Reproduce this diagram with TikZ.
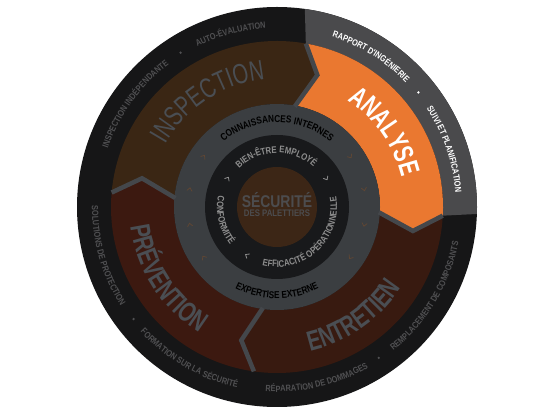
\documentclass[tikz,border=0pt]{standalone}
\usepackage{fontspec}
\usepackage{tikz}
\usetikzlibrary{decorations.text}

\newfontfamily\narrowsans[FakeStretch=0.82]{Liberation Sans}
\newfontfamily\widesans[FakeStretch=0.72]{Liberation Sans}
\newcommand{\outerfont}{\narrowsans\bfseries\fontsize{9pt}{9pt}\selectfont}
\newcommand{\phasefont}{\widesans\bfseries\fontsize{28pt}{28pt}\selectfont}
\newcommand{\phasefontlight}{\widesans\fontsize{28pt}{28pt}\selectfont}
\newcommand{\midfont}{\narrowsans\bfseries\fontsize{10pt}{10pt}\selectfont}
\newcommand{\innerfont}{\narrowsans\bfseries\fontsize{9.5pt}{9.5pt}\selectfont}

\definecolor{outerblack}{HTML}{161617}
\definecolor{analysering}{HTML}{4A4A4C}
\definecolor{inspbrown}{HTML}{3A2614}
\definecolor{analyseorange}{HTML}{EA7830}
\definecolor{entretienred}{HTML}{381A10}
\definecolor{preventionred}{HTML}{3C1910}
\definecolor{midgray}{HTML}{3B3E41}
\definecolor{divgray}{HTML}{44474B}
\definecolor{innerblack}{HTML}{18191B}
\definecolor{corebrown}{HTML}{3C2616}
\definecolor{phasegray}{HTML}{4A4E53}
\definecolor{outertxt}{HTML}{505052}
\definecolor{innertxt}{HTML}{8E8E8E}
\definecolor{coretxt}{HTML}{4C4C4E}
\definecolor{tickbrown}{HTML}{5E4634}

\begin{document}
\begin{tikzpicture}[
    x=1pt, y=1pt,
    ringtext/.style={decorate, decoration={text along path, text align=center}},
    divider/.style={draw=divgray, line width=4.5pt, line join=miter},
    tickmark/.style={draw=#1, line width=0.8pt, line cap=round, line join=round},
    sepdot/.style={fill=#1},
  ]
  \useasboundingbox (0,0) rectangle (556,417);
  \begin{scope}[shift={(277,210)}]
    % Outer ring
    \fill[outerblack] (0,0) circle[radius=200];
    \fill[analysering] (82:200) arc[start angle=82, end angle=-2, radius=200]
        -- (-3:166) arc[start angle=-3, end angle=80, radius=166] -- cycle;

    % Four phases
    \fill[inspbrown] (175:166) arc[start angle=175, end angle=80, radius=166]
        -- (73:138) -- (80:103) arc[start angle=80, end angle=175, radius=103]
        -- (168:138) -- cycle;
    \fill[analyseorange] (80:166) arc[start angle=80, end angle=-3, radius=166]
        -- (-10:138) -- (-3:103) arc[start angle=-3, end angle=80, radius=103]
        -- (73:138) -- cycle;
    \fill[entretienred] (-3:166) arc[start angle=-3, end angle=-98, radius=166]
        -- (-105:138) -- (-98:103) arc[start angle=-98, end angle=-3, radius=103]
        -- (-10:138) -- cycle;
    \fill[preventionred] (-98:166) arc[start angle=-98, end angle=-185, radius=166]
        -- (-192:138) -- (-185:103) arc[start angle=-185, end angle=-98, radius=103]
        -- (-105:138) -- cycle;

    % Middle and inner rings
    \fill[midgray] (0,0) circle[radius=103];
    \foreach \b in {80,-3,-98,175}
      \draw[divider] (\b:166) -- (\b-7:138) -- (\b:102);
    \fill[innerblack] (0,0) circle[radius=72];
    \fill[corebrown] (0,0) circle[radius=40];

    % Centre
    \node[text=coretxt, font=\narrowsans\bfseries\fontsize{17pt}{17pt}\selectfont] (core) at (0,7) {SÉCURITÉ};
    \node[text=coretxt, font=\narrowsans\bfseries\fontsize{9.5pt}{9.5pt}\selectfont] (coresub) at (0,-6) {DES PALETTIERS};

    % Outer ring labels
    \path[ringtext, decoration={text color=outertxt, text={|\outerfont|AUTO-ÉVALUATION}}]
        (125:179) arc[start angle=125, end angle=85, radius=179];
    \path[ringtext, decoration={text color=outertxt, text={|\outerfont|INSPECTION INDÉPENDANTE}}]
        (174:179) arc[start angle=174, end angle=114, radius=179];
    \path[ringtext, decoration={text color=white, text={|\outerfont|RAPPORT D'INGÉNIERIE}}]
        (76:179) arc[start angle=76, end angle=40, radius=179];
    \path[ringtext, decoration={text color=white, text={|\outerfont|SUIVI ET PLANIFICATION}}]
        (37:179) arc[start angle=37, end angle=1, radius=179];
    \path[ringtext, decoration={text color=outertxt, text={|\outerfont|SOLUTIONS DE PROTECTION}}]
        (174:185) arc[start angle=174, end angle=218, radius=185];
    \path[ringtext, decoration={text color=outertxt, text={|\outerfont|FORMATION SUR LA SÉCURITÉ}}]
        (218:185) arc[start angle=218, end angle=262, radius=185];
    \path[ringtext, decoration={text color=outertxt, text={|\outerfont|RÉPARATION DE DOMMAGES}}]
        (261:185) arc[start angle=261, end angle=305, radius=185];
    \path[ringtext, decoration={text color=outertxt, text={|\outerfont|REMPLACEMENT DE COMPOSANTS}}]
        (304:185) arc[start angle=304, end angle=354, radius=185];
    \fill[sepdot=outertxt] (122:182) circle[radius=1.3];
    \fill[sepdot=white] (39:182) circle[radius=1.3];
    \fill[sepdot=outertxt] (218:182) circle[radius=1.3];
    \fill[sepdot=outertxt] (304:182) circle[radius=1.3];

    % Phase labels
    \path[ringtext, decoration={text color=phasegray, text={|\phasefontlight|INSPECTION}}]
        (163:128) arc[start angle=163, end angle=83, radius=128];
    \path[ringtext, decoration={text color=white, text={|\phasefont|ANALYSE}}]
        (70:128) arc[start angle=70, end angle=0, radius=128];
    \path[ringtext, decoration={text color=phasegray, text={|\phasefont|ENTRETIEN}}]
        (-90:148) arc[start angle=-90, end angle=-20, radius=148];
    \path[ringtext, decoration={text color=phasegray, text={|\phasefont|PRÉVENTION}}]
        (178:148) arc[start angle=178, end angle=248, radius=148];

    % Middle ring labels
    \path[ringtext, decoration={text color=black, text={|\midfont|CONNAISSANCES INTERNES}}]
        (150:84.5) arc[start angle=150, end angle=30, radius=84.5];
    \path[ringtext, decoration={text color=black, text={|\midfont|EXPERTISE EXTERNE}}]
        (220:91.5) arc[start angle=220, end angle=320, radius=91.5];
    \foreach \a in {11.5,34.5,-11.5,-34.5,145.5,168.5,191.5,214.5}
      \draw[tickmark=tickbrown, rotate=\a] (86.5,1.5) -- (89,-1.5) -- (91.5,1.5);

    % Inner ring labels
    \path[ringtext, decoration={text color=innertxt, text={|\innerfont|BIEN-ÊTRE EMPLOYÉ}}]
        (151:54) arc[start angle=151, end angle=31, radius=54];
    \path[ringtext, decoration={text color=innertxt, text={|\innerfont|CONFORMITÉ}}]
        (154:60) arc[start angle=154, end angle=234, radius=60];
    \path[ringtext, decoration={text color=innertxt, text={|\innerfont|EFFICACITÉ OPÉRATIONNELLE}}]
        (-127:60) arc[start angle=-127, end angle=33, radius=60];
    \foreach \a in {30,150,238}
      \draw[tickmark=innertxt, rotate=\a] (54.5,1.5) -- (57,-1.5) -- (59.5,1.5);
  \end{scope}
\end{tikzpicture}
\end{document}
